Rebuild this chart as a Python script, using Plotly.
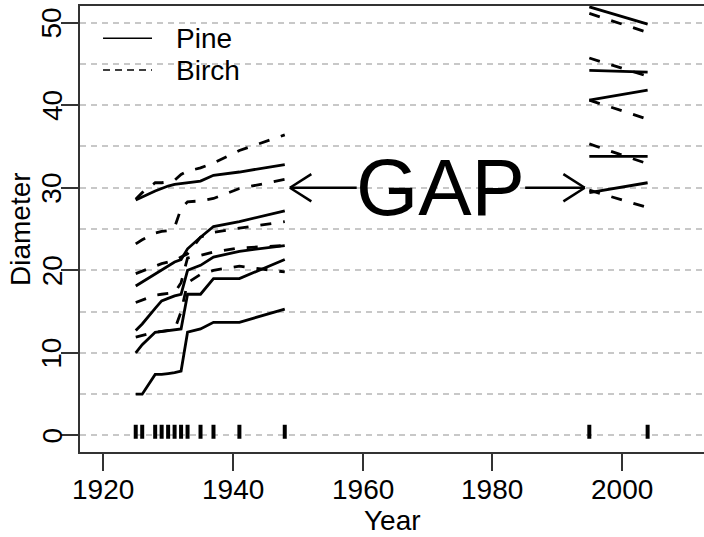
import plotly.graph_objects as go

# Measurement years for the two survey periods
years_early = [1925, 1926, 1928, 1929, 1930, 1931, 1932, 1933, 1935, 1937, 1941, 1948]
years_late = [1995, 2004]

# Stem diameters, early period
pine_early = [
    [28.5, 28.9, 29.6, 29.9, 30.2, 30.4, 30.5, 30.6, 30.8, 31.5, 31.9, 32.8],
    [18.1, 18.6, 19.6, 20.0, 20.6, 21.0, 21.3, 22.6, 24.0, 25.3, 25.9, 27.2],
    [12.7, 13.5, 15.4, 16.3, 16.6, 16.9, 17.1, 20.0, 20.6, 21.6, 22.3, 23.0],
    [10.0, 11.0, 12.5, 12.6, 12.7, 12.8, 12.9, 17.1, 17.1, 19.0, 19.0, 21.3],
    [5.0, 5.0, 7.4, 7.4, 7.5, 7.6, 7.8, 12.5, 12.9, 13.7, 13.7, 15.3],
]
birch_early = [
    [28.6, 29.4, 30.6, 30.6, 30.7, 30.9, 31.6, 32.0, 32.4, 33.0, 34.5, 36.4],
    [23.2, 23.7, 24.5, 24.7, 24.8, 25.2, 27.5, 28.3, 28.4, 28.7, 29.9, 31.0],
    [19.6, 19.9, 20.5, 20.8, 21.0, 21.2, 21.6, 22.0, 24.0, 24.6, 25.1, 25.9],
    [16.1, 16.4, 17.0, 17.1, 17.2, 17.3, 18.5, 21.5, 21.8, 22.2, 22.7, 23.0],
    [11.9, 12.1, 12.5, 12.6, 12.7, 12.8, 15.0, 18.5, 19.5, 20.0, 20.5, 19.8],
]

# Stem diameters, late period
pine_late = [[51.9, 49.8], [44.2, 44.0], [40.6, 41.8], [33.8, 33.8], [29.4, 30.6]]
birch_late = [[51.1, 48.8], [45.7, 43.5], [40.6, 38.3], [35.3, 32.9], [29.7, 27.6]]

# Years that carry at least one measurement (rug)
rug_years = [1925, 1926, 1928, 1929, 1930, 1931, 1932, 1933, 1935, 1937, 1941, 1948, 1995, 2004]

# Gap annotation
gap_label = "GAP"
gap_start, gap_end, gap_level = 1948.8, 1994.3, 30
gap_text_x = 1972.1
gap_text_left, gap_text_right = 1959.1, 1985.1

x_ticks = [1920, 1940, 1960, 1980, 2000]
y_ticks = [0, 10, 20, 30, 40, 50]

FONT = "Liberation Sans, Arial, sans-serif"
FS = 28
LW = 2.8
DASH = "11px,12px"

fig = go.Figure()

for group, years, style in [
    (pine_early, years_early, "solid"),
    (birch_early, years_early, DASH),
    (pine_late, years_late, "solid"),
    (birch_late, years_late, DASH),
]:
    for series in group:
        fig.add_trace(go.Scatter(
            x=years, y=series, mode="lines",
            line=dict(color="black", width=LW, dash=style),
            showlegend=False, hoverinfo="skip",
        ))

fig.add_trace(go.Scatter(
    x=rug_years, y=[0.45] * len(rug_years), mode="markers",
    marker=dict(symbol="line-ns", size=10, line=dict(color="black", width=4)),
    showlegend=False, hoverinfo="skip",
))

shapes = []
# gap arrows: shafts
shapes.append(dict(type="line", xref="x", yref="y", x0=gap_start, x1=gap_text_left,
                   y0=gap_level, y1=gap_level, line=dict(color="black", width=2.5)))
shapes.append(dict(type="line", xref="x", yref="y", x0=gap_text_right, x1=gap_end,
                   y0=gap_level, y1=gap_level, line=dict(color="black", width=2.5)))
# open arrow heads
hx, hy = 3.3, 1.65
for tip, sgn in [(gap_start, 1), (gap_end, -1)]:
    for dy in (hy, -hy):
        shapes.append(dict(type="line", xref="x", yref="y", x0=tip, y0=gap_level,
                           x1=tip + sgn * hx, y1=gap_level + dy,
                           line=dict(color="black", width=2.5)))

# legend samples
shapes.append(dict(type="line", xref="paper", yref="paper", x0=0.0369, x1=0.1154,
                   y0=0.9276, y1=0.9276, line=dict(color="black", width=1.5)))
shapes.append(dict(type="line", xref="paper", yref="paper", x0=0.0369, x1=0.1154,
                   y0=0.8565, y1=0.8565, line=dict(color="black", width=1.5, dash="7px,5px")))

annotations = [
    dict(x=gap_text_x, y=gap_level, xref="x", yref="y", text=gap_label, showarrow=False,
         font=dict(family=FONT, size=80, color="black"), xanchor="center", yanchor="middle"),
    dict(x=0.1506, y=0.9276, xref="paper", yref="paper", text="Pine", showarrow=False,
         font=dict(family=FONT, size=FS, color="black"), xanchor="left", yanchor="middle"),
    dict(x=0.1506, y=0.8565, xref="paper", yref="paper", text="Birch", showarrow=False,
         font=dict(family=FONT, size=FS, color="black"), xanchor="left", yanchor="middle"),
    # axis titles
    dict(x=0.5, y=-0.1525, xref="paper", yref="paper", text="Year", showarrow=False,
         font=dict(family=FONT, size=FS, color="black"), xanchor="center", yanchor="middle"),
    dict(x=-0.0962, y=0.5, xref="paper", yref="paper", text="Diameter", showarrow=False,
         textangle=-90, font=dict(family=FONT, size=FS, color="black"),
         xanchor="center", yanchor="middle"),
]
# rotated y tick labels
for v in y_ticks:
    annotations.append(dict(x=-0.0449, y=v, xref="paper", yref="y", text=str(v),
                            showarrow=False, textangle=-90,
                            font=dict(family=FONT, size=FS, color="black"),
                            xanchor="center", yanchor="middle"))
# x tick labels
for v in x_ticks:
    annotations.append(dict(x=v, y=-0.083, xref="x", yref="paper", text=str(v),
                            showarrow=False, font=dict(family=FONT, size=FS, color="black"),
                            xanchor="center", yanchor="middle"))

grid = dict(gridcolor="#c8c8c8", gridwidth=1.6, griddash="6px,5px")

fig.update_layout(
    width=704, height=537,
    margin=dict(l=80, r=0, t=6, b=85),
    paper_bgcolor="white", plot_bgcolor="white",
    font=dict(family=FONT, size=FS, color="black"),
    shapes=shapes, annotations=annotations,
    xaxis=dict(
        range=[1916.4, 2012.7], tickmode="array", tickvals=x_ticks, showticklabels=False,
        ticks="outside", ticklen=17, tickwidth=2, tickcolor="#333",
        showline=True, linewidth=2, linecolor="#333", mirror=True,
        showgrid=False, zeroline=False,
    ),
    yaxis=dict(
        range=[-2, 52], tickmode="array", tickvals=y_ticks, showticklabels=False,
        ticks="outside", ticklen=17, tickwidth=2, tickcolor="#333",
        showline=True, linewidth=2, linecolor="#333",
        showgrid=True, zeroline=False, **grid,
        minor=dict(dtick=5, tick0=0, showgrid=True, ticks="", **grid),
    ),
)

fig.write_html("out.html")
